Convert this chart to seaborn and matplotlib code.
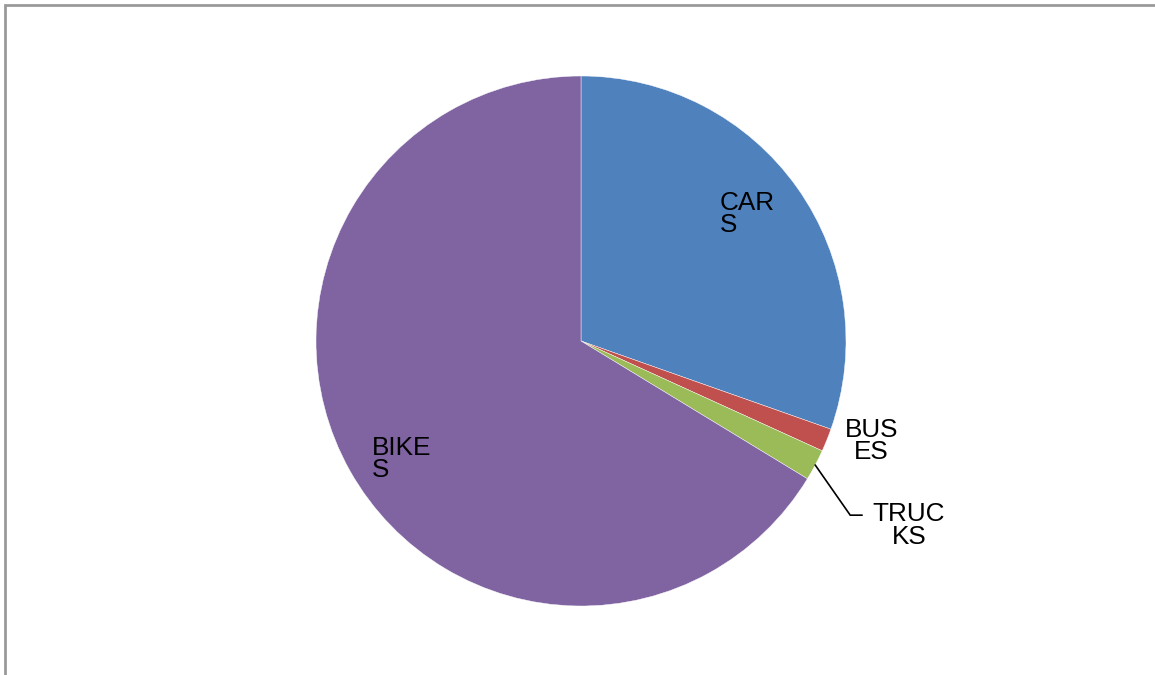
import numpy as np
import matplotlib
matplotlib.use("Agg")
import matplotlib.pyplot as plt
import seaborn as sns
from matplotlib.patches import Rectangle

categories = ["CARS", "BUSES", "TRUCKS", "BIKES"]
values = [30.4, 1.4, 1.9, 66.3]
label_texts = ["CAR\nS", "BUS\nES", "TRUC\nKS", "BIKE\nS"]
colors = ["#4F81BD", "#C0504D", "#9BBB59", "#8064A2"]

sns.set_theme(style="white")
plt.rcParams['font.family'] = ['Liberation Sans', 'DejaVu Sans']

W, H = 1155, 675
fig = plt.figure(figsize=(W / 100, H / 100), dpi=100)
fig.patch.set_facecolor("white")

cx, cy, R = 581, 341, 265
ax = fig.add_axes([(cx - R) / W, (H - cy - R) / H, 2 * R / W, 2 * R / H])
wedges, _ = ax.pie(values, colors=colors, startangle=90, counterclock=False,
                   radius=1.0, wedgeprops=dict(linewidth=0.3, edgecolor="white"))
ax.set_xlim(-1, 1)
ax.set_ylim(-1, 1)
ax.set_aspect("equal")
ax.axis("off")

# label placement: (distance, angle offset in degrees)
place = {
    "CARS": (0.79, 2.0),
    "BUSES": (1.16, 3.0),
    "TRUCKS": (1.42, -1.5),
    "BIKES": (0.81, 4.0),
}
for w, cat, txt in zip(wedges, categories, label_texts):
    mid = 0.5 * (w.theta1 + w.theta2)
    d, off = place[cat]
    a = np.deg2rad(mid + off)
    x, y = d * np.cos(a), d * np.sin(a)
    if cat == "TRUCKS":
        ea = np.deg2rad(mid)
        p0 = (np.cos(ea), np.sin(ea))
        ba = np.deg2rad(mid - 5)
        p1 = (1.21 * np.cos(ba), 1.21 * np.sin(ba))
        p2 = (p1[0] + 0.045, p1[1])
        ax.plot([p0[0], p1[0], p2[0]], [p0[1], p1[1], p2[1]], color="black",
                lw=1.2, clip_on=False, solid_joinstyle="miter")
        ma = "center"
    elif cat == "BUSES":
        ma = "center"
    else:
        ma = "left"
    ax.text(x, y, txt, ha="center", va="center", multialignment=ma,
            fontsize=18.8, linespacing=0.92, color="black")

# outer frame
fig.patches.append(Rectangle((4.5 / W, -0.1), 1.2, (H - 4.5) / H + 0.1,
                             transform=fig.transFigure, fill=False,
                             edgecolor="#9a9a9a", linewidth=2))

fig.savefig("out.png", dpi=100)
